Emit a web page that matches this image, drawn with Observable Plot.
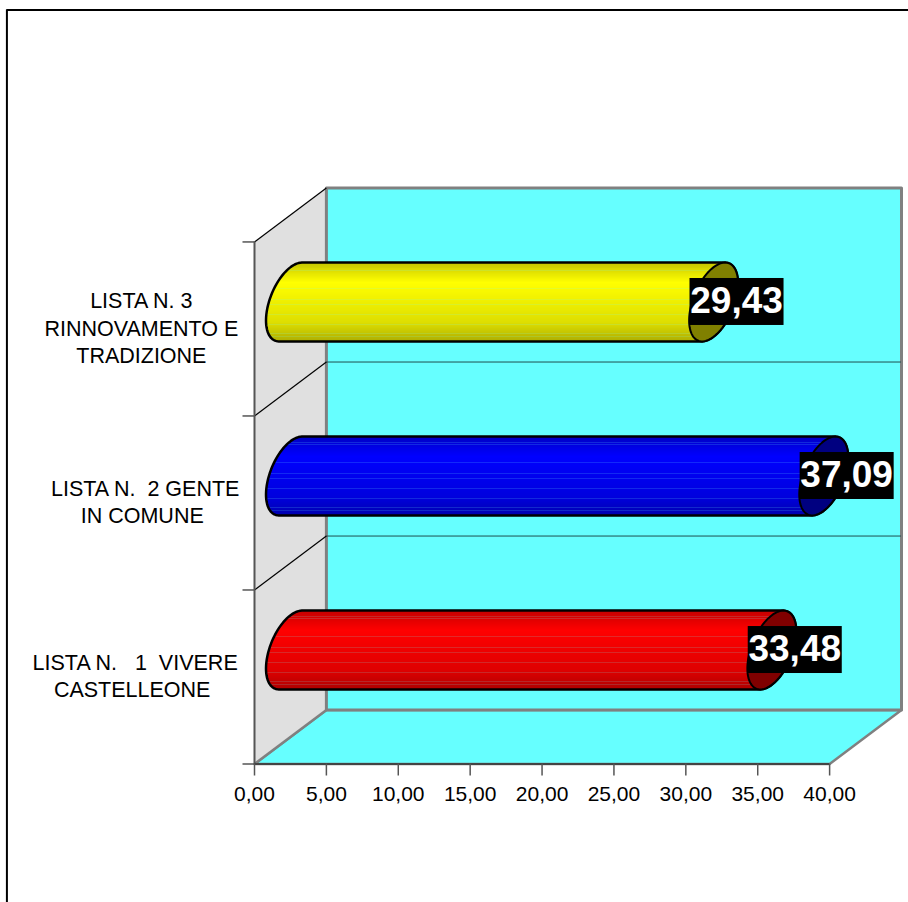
<!DOCTYPE html>
<html>
<head>
<meta charset="utf-8">
<script src="https://cdn.jsdelivr.net/npm/d3@7"></script>
<script src="https://cdn.jsdelivr.net/npm/@observablehq/plot@0.6"></script>
<style>
html,body{margin:0;padding:0;background:#fff}
svg{display:block}
</style>
</head>
<body>
<div id="chart"></div>
<script>
// Data (bottom to top)
const categories = ["LISTA N.   1  VIVERE\nCASTELLEONE ", "LISTA N.  2 GENTE\nIN COMUNE ", "LISTA N. 3\nRINNOVAMENTO E\nTRADIZIONE"];
const values = [33.48, 37.09, 29.43];
const valueLabels = ["33,48", "37,09", "29,43"];
const xTicks = [0, 5, 10, 15, 20, 25, 30, 35, 40];
const bandTicks = [0, 1, 2, 3];

// Layout and style, in data units of the two scales
const labelCentres = [-8.3, -7.6, -7.87];
const hues = [[255, 0, 0], [0, 0, 255], [255, 255, 0]];
const capColours = ["#800000", "#000080", "#808000"];
const depthX = 5, depthY = 0.31, xMax = 40;
const capU = [0.8, 0.2264], capV = [1.5, 0];
const hairlines = [0.065, 0.1, 0.33, 0.465, 0.52, 0.65, 0.78, 0.89, 0.94];

const bands = values.map((v, i) => ({v, i, cy: i + 0.5 + depthY / 2}));

const capPoint = (cx, cy, t) => ({
  x: cx + capU[0] * Math.cos(t) + capV[0] * Math.sin(t),
  y: cy + capU[1] * Math.cos(t) + capV[1] * Math.sin(t)
});
const steps = d3.range(0, 41).map(k => k / 40);
// Body outline: far half of the left cap, then near half of the right cap
function bodyOutline(b) {
  const left = depthX / 2, right = b.v + depthX / 2;
  const a = steps.map(s => capPoint(left, b.cy, -s * Math.PI));
  const c = steps.map(s => capPoint(right, b.cy, Math.PI - s * Math.PI));
  return [...a, ...c, a[0]];
}
function capOutline(b) {
  const right = b.v + depthX / 2;
  return d3.range(0, 81).map(k => capPoint(right, b.cy, k / 80 * 2 * Math.PI));
}
function gradientFor(hue, id) {
  const g = document.createElementNS("http://www.w3.org/2000/svg", "linearGradient");
  g.setAttribute("id", id);
  g.setAttribute("x1", 0); g.setAttribute("x2", 0); g.setAttribute("y1", 0); g.setAttribute("y2", 1);
  const n = 80;
  for (let k = 0; k < n; k++) {
    const f = k / n;
    const shade = f < 0.25 ? 0.78 + 0.22 * f / 0.25
      : f < 0.75 ? 1 - 0.13 * (f - 0.25) / 0.5
      : 0.87 - 0.19 * (f - 0.75) / 0.25;
    const hair = hairlines.some(h => Math.abs(h - f) < 0.5 / n) ? 0.16 : 0;
    const col = hue.map((c, j) => {
      const base = c * shade;
      const tint = j === 0 ? 110 : 255;
      return Math.round(base * (1 - hair) + tint * hair);
    });
    for (const o of [f, f + 1 / n]) {
      const s = document.createElementNS("http://www.w3.org/2000/svg", "stop");
      s.setAttribute("offset", o);
      s.setAttribute("stop-color", `rgb(${col.join(",")})`);
      g.appendChild(s);
    }
  }
  return g;
}
const defsMark = () => {
  const d = document.createElementNS("http://www.w3.org/2000/svg", "defs");
  hues.forEach((h, i) => d.appendChild(gradientFor(h, "bar" + i)));
  return d;
};

const cyan = "#66FFFF", wallGrey = "#E0E0E0", edge = "#808080", axisGrey = "#555555";
const floor = [[0, 0], [xMax, 0], [xMax + depthX, depthY], [depthX, depthY], [0, 0]];
const sideWall = [[0, 0], [depthX, depthY], [depthX, 3 + depthY], [0, 3], [0, 0]];
const backWall = [[depthX, depthY], [xMax + depthX, depthY], [xMax + depthX, 3 + depthY], [depthX, 3 + depthY], [depthX, depthY]];
const fmt = d => d.toFixed(2).replace(".", ",");

const marks = [
  defsMark,
  // page frame
  Plot.ruleX([-17.22], {y1: -0.8, y2: 4.333, stroke: "#000", strokeWidth: 2}),
  Plot.ruleY([4.333], {x1: -17.22, x2: 45.5, stroke: "#000", strokeWidth: 2}),
  // floor and walls
  Plot.line(floor, {x: "0", y: "1", fill: cyan, stroke: edge, strokeWidth: 2.5}),
  Plot.line(sideWall, {x: "0", y: "1", fill: wallGrey, stroke: "none"}),
  Plot.line(backWall, {x: "0", y: "1", fill: cyan, stroke: edge, strokeWidth: 3}),
  // grid
  Plot.ruleY([1, 2], {y: d => d + depthY, x1: depthX, x2: xMax + depthX, stroke: "#1f4f4f", strokeWidth: 1}),
  Plot.link([1, 2, 3], {x1: 0, y1: d => d, x2: depthX, y2: d => d + depthY, stroke: "#000", strokeWidth: 1.2}),
  Plot.link([0], {x1: 0, y1: d => d, x2: depthX, y2: d => d + depthY, stroke: edge, strokeWidth: 2.5}),
  // axes
  Plot.ruleX([0], {y1: 0, y2: 3, stroke: axisGrey, strokeWidth: 2}),
  Plot.ruleY([0], {x1: 0, x2: xMax, stroke: "#444", strokeWidth: 2}),
  Plot.ruleY(bandTicks, {x1: -0.8, x2: 0, stroke: axisGrey, strokeWidth: 1.5}),
  Plot.axisX({
    ticks: xTicks, tickFormat: fmt, tickSize: 12, tickPadding: 10, label: null, anchor: "bottom",
    stroke: axisGrey, fill: "#000", fontSize: 21, fontFamily: "Liberation Sans", strokeWidth: 1.5
  }),
  // category labels
  Plot.text(categories, {
    x: (d, i) => labelCentres[i], y: (d, i) => i + 0.5, text: d => d, textAnchor: "middle",
    lineAnchor: "middle", lineHeight: 1.27, fontSize: 21.5, fontFamily: "Liberation Sans", fill: "#000", dy: -2
  }),
  // cylinders
  ...bands.flatMap(b => [
    Plot.line(bodyOutline(b), {x: "x", y: "y", fill: `url(#bar${b.i})`, stroke: "#000", strokeWidth: 2.5}),
    Plot.line(capOutline(b), {x: "x", y: "y", fill: capColours[b.i], stroke: "#000", strokeWidth: 2})
  ]),
  // value labels
  Plot.rect(bands, {
    x1: b => b.v + depthX / 2 + 1.63 - 3.27, x2: b => b.v + depthX / 2 + 1.63 + 3.27,
    y1: b => b.cy - 0.135, y2: b => b.cy + 0.135, fill: "#000"
  }),
  Plot.text(bands, {
    x: b => b.v + depthX / 2 + 1.63, y: b => b.cy, text: b => valueLabels[b.i], dy: -1, dx: -0.5,
    fontSize: 37, fontWeight: "bold", fontFamily: "Liberation Sans", fill: "#fff", lineAnchor: "middle"
  })
];

const chart = Plot.plot({
  width: 908, height: 902,
  marginLeft: 254, marginRight: 7, marginTop: 187.5, marginBottom: 138.5,
  x: {domain: [0, 45], axis: null},
  y: {domain: [0, 3 + depthY], axis: null},
  style: {background: "#fff", overflow: "visible"},
  marks
});
document.getElementById("chart").appendChild(chart);
</script>
</body>
</html>
